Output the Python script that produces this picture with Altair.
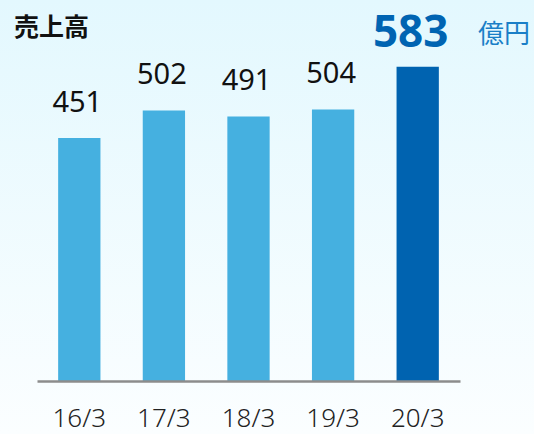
import altair as alt
import pandas as pd

years = ["16/3", "17/3", "18/3", "19/3", "20/3"]
sales = [451, 502, 491, 504, 583]
highlight = [False, False, False, False, True]
title_text = "売上高"
unit_text = "億円"

df = pd.DataFrame({"year": years, "sales": sales, "hl": highlight})

FONT = "Noto Sans"
CJK = "Noto Sans CJK JP"

x_enc = alt.X("year:N", sort=years, title=None,
              scale=alt.Scale(paddingInner=0.5, paddingOuter=0.25),
              axis=alt.Axis(labelAngle=0, ticks=False, labelPadding=45,
                            labelBaseline="alphabetic", labelFont=FONT,
                            labelFontSize=26, labelColor="#222222",
                            labelFontWeight=300, zindex=1,
                            domainColor="#8c8c8c", domainWidth=2.5, grid=False))
y_enc = alt.Y("sales:Q", scale=alt.Scale(domain=[0, 707], nice=False, zero=True), axis=None)

bg = alt.Chart(alt.Data(values=[{"a": 1}])).mark_rect(
    fill=alt.LinearGradient(
        gradient="linear", x1=0, x2=0, y1=0, y2=1,
        stops=[alt.GradientStop(color="#e3f8fe", offset=0),
               alt.GradientStop(color="#fbfeff", offset=1)]),
).encode(x=alt.value(-37), x2=alt.value(497), y=alt.value(0), y2=alt.value(434))

bars = alt.Chart(df).mark_bar().encode(
    x=x_enc, y=y_enc,
    color=alt.Color("hl:N", scale=alt.Scale(domain=[False, True], range=["#45b0e0", "#0063b0"]), legend=None),
)

labels = alt.Chart(df).transform_filter("!datum.hl").mark_text(
    baseline="alphabetic", dy=-26, font=FONT, fontSize=29, color="#111111", dx=-2
).encode(x=alt.X("year:N", sort=years), y=y_enc, text="sales:Q")

big = alt.Chart(df).transform_filter("datum.hl").mark_text(
    baseline="alphabetic", font=FONT, fontSize=44, fontWeight="bold", color="#0064b2", dx=-7
).encode(x=alt.X("year:N", sort=years), y=alt.value(47), text="sales:Q")

unit = alt.Chart(alt.Data(values=[{"t": unit_text}])).mark_text(
    align="left", baseline="alphabetic", font=CJK, fontSize=26, color="#1a7fc7"
).encode(x=alt.value(441), y=alt.value(43), text="t:N")

title = alt.Chart(alt.Data(values=[{"t": title_text}])).mark_text(
    align="left", baseline="alphabetic", font=CJK, fontSize=25, fontWeight="bold", color="#111111"
).encode(x=alt.value(-23), y=alt.value(36), text="t:N")

chart = alt.layer(bg, bars, labels, big, unit, title).properties(
    width=423, height=381,
    autosize=alt.AutoSizeParams(type="none"),
    padding={"left": 37, "top": 0, "right": 74, "bottom": 53},
    background="#ffffff",
).configure_view(stroke=None)

chart.save("out.html", embed_options={"renderer": "svg", "actions": False})
